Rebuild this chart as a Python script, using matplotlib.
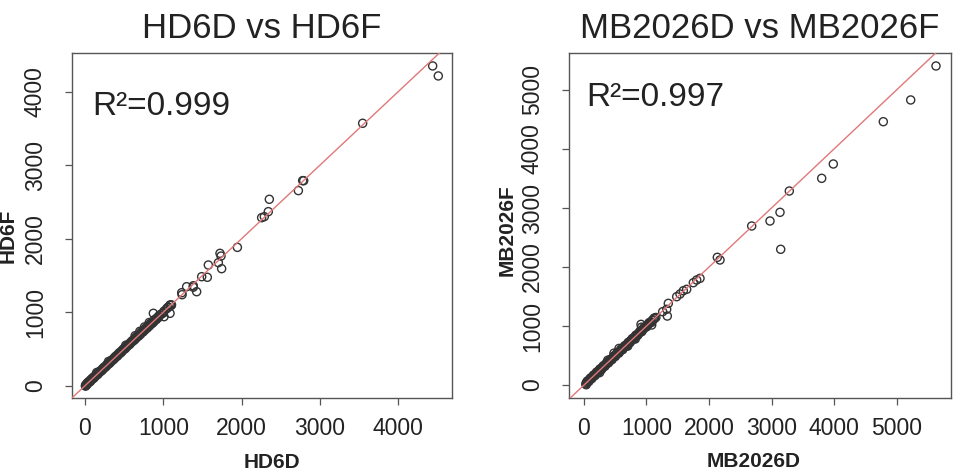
import matplotlib
matplotlib.use("Agg")
import matplotlib.pyplot as plt

plt.rcParams['font.family'] = ['Liberation Sans', 'DejaVu Sans']

# ---------------- data ----------------
titles = ["HD6D vs HD6F", "MB2026D vs MB2026F"]
xlabels = ["HD6D", "MB2026D"]
ylabels = ["HD6F", "MB2026F"]
r2_labels = ["R\u00b2=0.999", "R\u00b2=0.997"]

hd6d = [5, 12, 20, 28, 35, 45, 55, 62, 70, 80, 92, 100, 110, 122, 135, 145, 158, 170,
        182, 195, 205, 218, 230, 242, 255, 268, 280, 292, 305, 318, 330, 342, 355, 368,
        380, 395, 408, 420, 432, 445, 458, 470, 485, 498, 510, 525, 540, 552, 565, 580,
        595, 608, 622, 638, 650, 665, 680, 695, 710, 725, 740, 752, 768, 782, 795, 810,
        825, 840, 855, 868, 880, 895, 910, 925, 940, 960, 985, 1010, 1040, 1065, 1090, 1105,
        8, 25, 40, 66, 86, 115, 140, 165, 188, 212, 236, 262, 286, 310, 336, 360, 386,
        414, 438, 464, 490, 518, 546, 572, 600, 630, 658, 688, 718, 746, 775, 802, 832,
        862, 888, 918, 950, 1000, 1055, 1100,
        640, 700, 760, 820, 520, 300, 150,
        873, 1009, 1086, 1086, 1235, 1240, 1298, 1383, 1383, 1426, 1490, 1562, 1575,
        1703, 1724, 1737, 1745, 1946, 2256, 2290, 2341, 2354, 2725, 2780, 2793, 3546,
        4440, 4512]
hd6f = [0, 15, 10, 35, 30, 50, 48, 70, 62, 85, 88, 110, 102, 128, 130, 152, 150, 175,
        178, 200, 198, 225, 222, 248, 250, 275, 272, 298, 300, 325, 322, 348, 350, 375,
        372, 402, 400, 428, 425, 452, 450, 478, 480, 505, 502, 532, 535, 560, 558, 588,
        590, 615, 615, 645, 642, 672, 672, 702, 700, 732, 732, 760, 760, 790, 785, 818,
        815, 848, 845, 875, 870, 902, 900, 930, 930, 965, 980, 1015, 1045, 1070, 1095, 1100,
        -5, 22, 48, 58, 92, 108, 148, 158, 196, 205, 244, 255, 294, 302, 344, 352, 394,
        406, 446, 456, 498, 510, 554, 565, 608, 622, 666, 680, 726, 738, 782, 796, 840,
        855, 895, 912, 958, 995, 1062, 1092,
        680, 740, 800, 860, 550, 330, 180,
        985, 939, 1098, 985, 1265, 1238, 1347, 1360, 1340, 1279, 1483, 1475, 1642,
        1674, 1801, 1764, 1592, 1882, 2286, 2300, 2368, 2536, 2654, 2790, 2789, 3570,
        4350, 4214]

mb2026d = [30, 40, 50, 60, 72, 85, 95, 108, 120, 132, 145, 158, 170, 182, 195, 208, 220,
           235, 248, 260, 275, 288, 300, 315, 328, 342, 355, 370, 385, 398, 412, 425, 440,
           455, 468, 482, 495, 510, 525, 540, 552, 568, 582, 598, 612, 628, 642, 658, 672,
           688, 702, 718, 732, 748, 762, 778, 792, 808, 822, 838, 852, 868, 885, 900, 918,
           935, 952, 970, 990, 1010, 1030, 1050, 1070, 1090, 1110, 1130, 1150,
           35, 55, 78, 102, 126, 152, 176, 202, 228, 254, 282, 308, 335, 362, 392, 418,
           448, 475, 502, 532, 560, 590, 620, 650, 680, 710, 740, 770, 800, 830, 860, 892,
           925, 960, 1000, 1040, 1080, 1120,
           480, 560, 700, 820, 920, 380, 250,
           912, 1083, 1259, 1323, 1333, 1349, 1483, 1536, 1589, 1643, 1749, 1803, 1856,
           2133, 2176, 2683, 2976, 3136, 3147, 3285, 3803, 3989, 4789, 5227, 5632]
mb2026f = [20, 45, 40, 65, 70, 90, 90, 112, 118, 138, 142, 162, 168, 188, 192, 212, 218,
           240, 245, 265, 270, 292, 298, 320, 325, 348, 352, 375, 380, 402, 408, 430, 438,
           460, 465, 488, 492, 515, 522, 545, 550, 572, 580, 602, 608, 632, 640, 662, 668,
           692, 700, 722, 730, 752, 760, 782, 790, 812, 820, 842, 850, 872, 882, 905, 915,
           940, 950, 975, 990, 1015, 1025, 1055, 1065, 1095, 1105, 1135, 1145,
           5, 68, 60, 118, 110, 168, 160, 220, 212, 272, 265, 325, 318, 378, 375, 432,
           430, 490, 485, 548, 542, 605, 600, 665, 662, 725, 722, 785, 782, 845, 842, 905,
           905, 975, 985, 1055, 1062, 1130,
           540, 620, 660, 780, 980, 420, 210,
           1028, 1017, 1243, 1283, 1169, 1384, 1497, 1542, 1598, 1622, 1734, 1780, 1808,
           2164, 2119, 2695, 2780, 2927, 2300, 3288, 3503, 3746, 4463, 4831, 5407]

xs = [hd6d, mb2026d]
ys = [hd6f, mb2026f]
xlims = [(-166, 4687), (-240, 5872)]
ylims = [(-167, 4526), (-220, 5627)]
xticks = [[0, 1000, 2000, 3000, 4000], [0, 1000, 2000, 3000, 4000, 5000]]
yticks = [[0, 1000, 2000, 3000, 4000], [0, 1000, 2000, 3000, 4000, 5000]]

# ---------------- layout ----------------
W, H = 962, 476
fig = plt.figure(figsize=(W / 100, H / 100), dpi=100)
fig.patch.set_facecolor('white')

axes_px = [(72, 53, 452, 398), (569, 53, 951, 398)]
ylabel_pos = [(-0.142, 0.47), (-0.136, 0.487)]
xlabel_pos = [(0.526, -0.159), (0.484, -0.157)]
r2_pos = [(0.053, 0.820), (0.0445, 0.846)]

text_col = '#222222'
for i in range(2):
    l, t, r, b = axes_px[i]
    ax = fig.add_axes([l / W, 1 - b / H, (r - l) / W, (b - t) / H])
    ax.scatter(xs[i], ys[i], s=34, facecolors='none', edgecolors='#333333',
               linewidths=1.0, zorder=2)
    ax.axline((0, 0), slope=1, color='#e07878', lw=1.0, zorder=3)
    ax.set_xlim(*xlims[i])
    ax.set_ylim(*ylims[i])
    ax.set_xticks(xticks[i])
    ax.set_yticks(yticks[i])
    ax.set_xticklabels([str(v) for v in xticks[i]], fontsize=16.5, color=text_col)
    ax.set_yticklabels([str(v) for v in yticks[i]], fontsize=16.5, color=text_col,
                       rotation=90, va='center', ha='right')
    ax.tick_params(axis='x', length=5, width=0.9, color='#555555', pad=9)
    ax.tick_params(axis='y', length=5, width=0.9, color='#555555', pad=13)
    for sp in ax.spines.values():
        sp.set_color('#555555')
        sp.set_linewidth(1.0)
    ax.set_title(titles[i], fontsize=25, color=text_col, y=1.0435, pad=0)
    ax.set_xlabel(xlabels[i], fontsize=15, fontweight='bold', color=text_col)
    ax.set_ylabel(ylabels[i], fontsize=15, fontweight='bold', color=text_col)
    ax.xaxis.set_label_coords(*xlabel_pos[i])
    ax.yaxis.set_label_coords(*ylabel_pos[i])
    ax.text(r2_pos[i][0], r2_pos[i][1], r2_labels[i], transform=ax.transAxes,
            fontsize=24, color=text_col, ha='left', va='baseline')

fig.savefig('out.png', dpi=100, facecolor='white')
